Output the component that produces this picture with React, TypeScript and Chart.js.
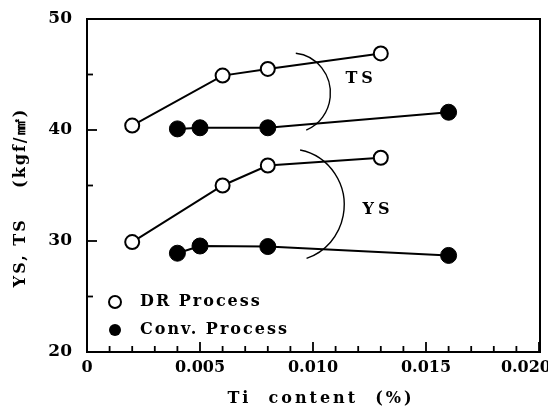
import React, { useEffect, useRef } from "react";
import { Chart, registerables } from "chart.js";

Chart.register(...registerables);

// ---- data ----
const drX = [0.002, 0.006, 0.008, 0.013];
const drTS = [40.4, 44.9, 45.5, 46.9];
const drYS = [29.9, 35.0, 36.8, 37.5];
const convX = [0.004, 0.005, 0.008, 0.016];
const convTS = [40.1, 40.2, 40.2, 41.6];
const convYS = [28.9, 29.55, 29.5, 28.7];

const legendLabels = ["DR Process", "Conv. Process"];
const xTitle = "Ti  content  (%)";
const yTitle = "YS, TS    (kgf/㎟)";

// bracket arcs (data units) and their labels
const arcLabels = ["TS", "YS"];
const arcCX = [0.00906, 0.00897];
const arcCY = [43.33, 33.24];
const arcRX = [0.00171, 0.00241];
const arcRY = [3.6, 5.05];
const arcStartDeg = [-84, -79];
const arcEndDeg = [68, 72];
const arcLabelX = [0.01213, 0.01288];
const arcLabelY = [44.6, 32.8];

const FONT = "'DejaVu Serif', 'Liberation Serif', serif";

const xLabel = (v: number) => {
  const n = Math.round(v * 1000);
  if (n % 5 !== 0) return "";
  return n === 0 ? "0" : (n / 1000).toFixed(3);
};

const decorPlugin = {
  id: "decor",
  beforeDatasetsDraw(chart: any) {
    const { ctx, chartArea: a, scales } = chart;
    const xs = scales.x;
    const ys = scales.y;
    ctx.save();
    ctx.strokeStyle = "#000";
    ctx.lineWidth = 2;
    ctx.strokeRect(a.left, a.top, a.right - a.left + 1, a.bottom - a.top);
    ctx.lineWidth = 1.8;
    // inward ticks
    xs.ticks.forEach((t: any) => {
      const v = t.value;
      const major = Math.round(v * 1000) % 5 === 0;
      const px = xs.getPixelForValue(v);
      ctx.beginPath();
      ctx.moveTo(px, a.bottom);
      ctx.lineTo(px, a.bottom - (major ? 10 : 6));
      ctx.stroke();
    });
    ys.ticks.forEach((t: any) => {
      const v = t.value;
      const major = Math.round(v) % 10 === 0;
      const py = ys.getPixelForValue(v);
      ctx.beginPath();
      ctx.moveTo(a.left, py);
      ctx.lineTo(a.left + (major ? 10 : 6), py);
      ctx.stroke();
    });
    // x tick labels (last one kept inside the canvas)
    ctx.fillStyle = "#000";
    ctx.font = `bold 16px ${FONT}`;
    ctx.textAlign = "left";
    ctx.textBaseline = "middle";
    xs.ticks.forEach((t: any) => {
      const s = xLabel(t.value);
      if (!s) return;
      const w = ctx.measureText(s).width;
      let left = xs.getPixelForValue(t.value) - w / 2;
      if (left + w > chart.width + 3) left = chart.width + 3 - w;
      ctx.fillText(s, left, a.bottom + 16);
    });
    // arcs
    ctx.lineWidth = 1.4;
    for (let i = 0; i < arcLabels.length; i++) {
      const cx = xs.getPixelForValue(arcCX[i]);
      const cy = ys.getPixelForValue(arcCY[i]);
      const rx = xs.getPixelForValue(arcCX[i] + arcRX[i]) - cx;
      const ry = cy - ys.getPixelForValue(arcCY[i] + arcRY[i]);
      ctx.beginPath();
      ctx.ellipse(cx, cy, rx, ry, 0, (arcStartDeg[i] * Math.PI) / 180, (arcEndDeg[i] * Math.PI) / 180);
      ctx.stroke();
    }
    // arc labels
    ctx.font = `bold 16px ${FONT}`;
    (ctx as any).letterSpacing = "4px";
    ctx.textAlign = "center";
    for (let i = 0; i < arcLabels.length; i++) {
      ctx.fillText(arcLabels[i], xs.getPixelForValue(arcLabelX[i]), ys.getPixelForValue(arcLabelY[i]));
    }
    // legend
    (ctx as any).letterSpacing = "2px";
    ctx.textAlign = "left";
    const lx = a.left + 28;
    const rows = [a.bottom - 50, a.bottom - 22];
    rows.forEach((ry: number, i: number) => {
      ctx.beginPath();
      ctx.arc(lx, ry, 6, 0, Math.PI * 2);
      if (i === 0) {
        ctx.fillStyle = "#fff";
        ctx.fill();
        ctx.lineWidth = 2;
        ctx.stroke();
      } else {
        ctx.fillStyle = "#000";
        ctx.fill();
      }
      ctx.fillStyle = "#000";
      ctx.fillText(legendLabels[i], lx + 25, ry);
    });
    // axis titles
    ctx.font = `bold 16px ${FONT}`;
    (ctx as any).letterSpacing = "3px";
    ctx.textAlign = "center";
    ctx.fillText(xTitle, (a.left + a.right) / 2 + 8, 399);
    (ctx as any).letterSpacing = "2px";
    ctx.translate(21, (a.top + a.bottom) / 2 + 12);
    ctx.rotate(-Math.PI / 2);
    ctx.fillText(yTitle, 0, 0);
    ctx.restore();
  },
};

export default function App() {
  const ref = useRef<HTMLCanvasElement>(null);
  useEffect(() => {
    document.body.style.margin = "0";
    const mk = (label: string, xv: number[], yv: number[], open: boolean) => ({
      label,
      data: xv.map((x, i) => ({ x, y: yv[i] })),
      borderColor: "#000",
      borderWidth: 2,
      showLine: true,
      pointRadius: open ? 7 : 8,
      pointBorderWidth: open ? 2 : 1,
      pointBackgroundColor: open ? "#fff" : "#000",
      pointBorderColor: "#000",
      tension: 0,
    });
    const chart = new Chart(ref.current!, {
      type: "scatter",
      data: {
        datasets: [
          mk("DR TS", drX, drTS, true),
          mk("Conv TS", convX, convTS, false),
          mk("DR YS", drX, drYS, true),
          mk("Conv YS", convX, convYS, false),
        ],
      },
      options: {
        animation: false,
        responsive: false,
        devicePixelRatio: 1,
        layout: { padding: { top: 19, right: 3, left: 0, bottom: 0 } },
        plugins: { legend: { display: false }, tooltip: { enabled: false } },
        scales: {
          x: {
            type: "linear",
            min: 0,
            max: 0.02,
            grid: { display: false },
            border: { display: false },
            ticks: {
              display: false,
              stepSize: 0.001,
              autoSkip: false,
              maxRotation: 0,
              callback: (v: any) => xLabel(Number(v)),
            },
            afterFit: (s: any) => {
              s.height = 56;
              s.paddingLeft = 0;
              s.paddingRight = 0;
            },
          },
          y: {
            min: 20,
            max: 50,
            grid: { display: false },
            border: { display: false },
            ticks: {
              stepSize: 5,
              autoSkip: false,
              padding: 7,
              color: "#000",
              font: { family: FONT, weight: "bold", size: 17 },
              callback: (v: any) => (Math.round(Number(v)) % 10 === 0 ? String(v) : ""),
            },
            afterFit: (s: any) => {
              s.width = 87;
              s.paddingTop = 0;
              s.paddingBottom = 0;
            },
          },
        },
      },
      plugins: [decorPlugin],
    } as any);
    return () => chart.destroy();
  }, []);
  return (
    <div style={{ width: 548, height: 408 }}>
      <canvas ref={ref} width={548} height={408} style={{ width: 548, height: 408, display: "block" }} />
    </div>
  );
}
